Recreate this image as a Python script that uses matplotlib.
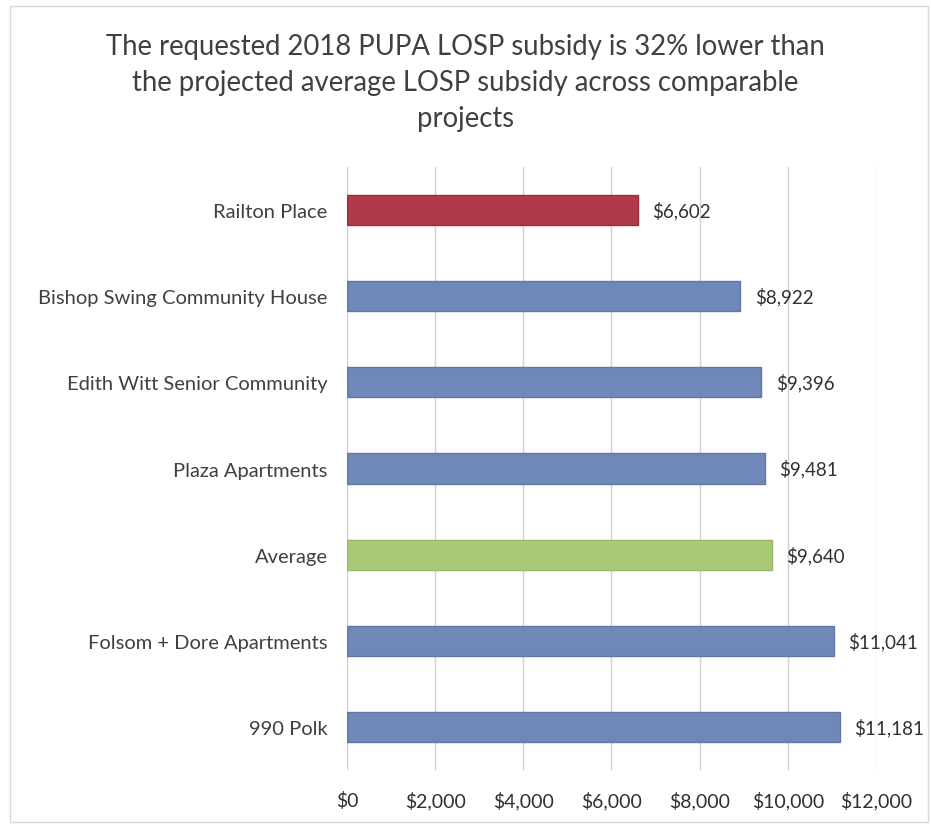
import matplotlib.pyplot as plt
from matplotlib.patches import Rectangle

plt.rcParams['font.family'] = ['Lato', 'DejaVu Sans']

# data, top to bottom
projects = ["Railton Place", "Bishop Swing Community House", "Edith Witt Senior Community",
            "Plaza Apartments", "Average", "Folsom + Dore Apartments", "990 Polk"]
subsidy = [6602, 8922, 9396, 9481, 9640, 11041, 11181]
bar_colors = ["#B03A48", "#6F88B8", "#6F88B8", "#6F88B8", "#A9CB78", "#6F88B8", "#6F88B8"]
edge_colors = ["#9A2E3B", "#5F78A8", "#5F78A8", "#5F78A8", "#98B868", "#5F78A8", "#5F78A8"]
xticks = [0, 2000, 4000, 6000, 8000, 10000, 12000]

fig = plt.figure(figsize=(9.31, 8.28), dpi=100)
ax = fig.add_axes([0.3727, 0.0688, 0.5682, 0.7282])

ypos = list(range(len(projects)))
ax.barh(ypos, subsidy, height=0.35, color=bar_colors, edgecolor=edge_colors, linewidth=1, zorder=3)

for y, v in zip(ypos, subsidy):
    ax.text(v + 330, y, "${:,}".format(v), va='center', ha='left', fontsize=13.5, color="#303030")

ax.set_xlim(0, 12000)
ax.set_ylim(len(projects) - 0.5, -0.5)
ax.set_xticks(xticks)
ax.set_xticklabels(["${:,}".format(t) for t in xticks], fontsize=14, color="#303030")
ax.set_yticks(ypos)
ax.set_yticklabels(projects, fontsize=14.5, color="#404040")
ax.tick_params(axis='both', length=0)
ax.tick_params(axis='x', pad=15)
ax.tick_params(axis='y', pad=14)
ax.grid(axis='x', color="#D0D0D0", linewidth=1, zorder=0)
for s in ax.spines.values():
    s.set_visible(False)

fig.text(0.5, 0.9, "The requested 2018 PUPA LOSP subsidy is 32% lower than\n"
         "the projected average LOSP subsidy across comparable\nprojects",
         ha='center', va='center', fontsize=19.8, color="#404040", linespacing=1.48)

fig.patches.append(Rectangle((0.011, 0.006), 0.986, 0.985, transform=fig.transFigure,
                             fill=False, edgecolor="#D8D8D8", linewidth=1))

fig.savefig("out.png", dpi=100)
